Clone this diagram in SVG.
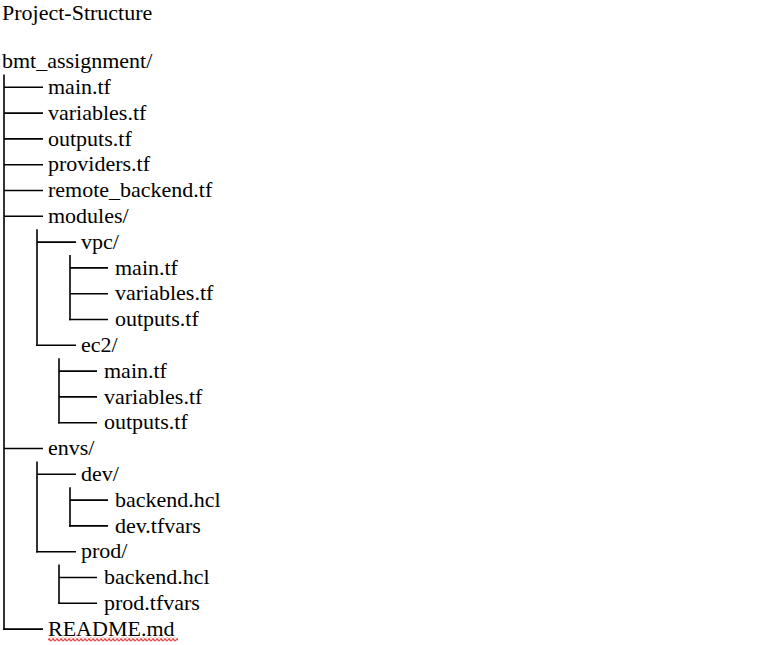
<svg xmlns="http://www.w3.org/2000/svg" width="773" height="645" viewBox="0 0 773 645" font-family="'Liberation Serif', 'Times New Roman', Times, 'Nimbus Roman', 'Noto Serif', 'DejaVu Serif', serif">
<style>
text{font-size:22px;fill:#000}
.c line{stroke:#000;stroke-width:1.6;fill:none}
</style>
<defs>
<pattern id="wave" x="48" y="637.5" width="4" height="4" patternUnits="userSpaceOnUse">
<path d="M0,2.5 Q1,0.3 2,2.5 T4,2.5" stroke="#e01010" stroke-width="1.1" fill="none"/>
</pattern>
</defs>
<rect width="773" height="645" fill="#fff"/>
<g id="connectors" class="c">
<line x1="4" y1="74.4" x2="4" y2="629.9"/>
<line x1="4" y1="87.3" x2="43" y2="87.3"/>
<line x1="4" y1="113.1" x2="43" y2="113.1"/>
<line x1="4" y1="138.9" x2="43" y2="138.9"/>
<line x1="4" y1="164.7" x2="43" y2="164.7"/>
<line x1="4" y1="190.5" x2="43" y2="190.5"/>
<line x1="4" y1="216.3" x2="43" y2="216.3"/>
<line x1="4" y1="448.5" x2="43" y2="448.5"/>
<line x1="3.2" y1="629.1" x2="43" y2="629.1"/>
<line x1="37" y1="229.2" x2="37" y2="346.1"/>
<line x1="37" y1="242.1" x2="76" y2="242.1"/>
<line x1="36.2" y1="345.3" x2="76" y2="345.3"/>
<line x1="70" y1="255" x2="70" y2="320.3"/>
<line x1="70" y1="267.9" x2="108" y2="267.9"/>
<line x1="70" y1="293.7" x2="108" y2="293.7"/>
<line x1="69.2" y1="319.5" x2="108" y2="319.5"/>
<line x1="59" y1="358.2" x2="59" y2="423.5"/>
<line x1="59" y1="371.1" x2="97" y2="371.1"/>
<line x1="59" y1="396.9" x2="97" y2="396.9"/>
<line x1="58.2" y1="422.7" x2="97" y2="422.7"/>
<line x1="37" y1="461.4" x2="37" y2="552.5"/>
<line x1="37" y1="474.3" x2="76" y2="474.3"/>
<line x1="36.2" y1="551.7" x2="76" y2="551.7"/>
<line x1="70" y1="487.2" x2="70" y2="526.7"/>
<line x1="70" y1="500.1" x2="108" y2="500.1"/>
<line x1="69.2" y1="525.9" x2="108" y2="525.9"/>
<line x1="59" y1="564.6" x2="59" y2="604.1"/>
<line x1="59" y1="577.5" x2="97" y2="577.5"/>
<line x1="58.2" y1="603.3" x2="97" y2="603.3"/>
</g>
<g id="title"><text x="2" y="19.5">Project-Structure</text></g>
<g id="root"><text x="2" y="67.7">bmt_assignment/</text></g>
<g id="main"><text x="48" y="94">main.tf</text></g>
<g id="variables"><text x="48" y="119.8">variables.tf</text></g>
<g id="outputs"><text x="48" y="145.6">outputs.tf</text></g>
<g id="providers"><text x="48" y="171.4">providers.tf</text></g>
<g id="remote_backend"><text x="48" y="197.2">remote_backend.tf</text></g>
<g id="modules"><text x="48" y="223">modules/</text></g>
<g id="vpc"><text x="81" y="248.8">vpc/</text></g>
<g id="vpc_main"><text x="115" y="274.6">main.tf</text></g>
<g id="vpc_variables"><text x="115" y="300.4">variables.tf</text></g>
<g id="vpc_outputs"><text x="115" y="326.2">outputs.tf</text></g>
<g id="ec2"><text x="81" y="352">ec2/</text></g>
<g id="ec2_main"><text x="104" y="377.8">main.tf</text></g>
<g id="ec2_variables"><text x="104" y="403.6">variables.tf</text></g>
<g id="ec2_outputs"><text x="104" y="429.4">outputs.tf</text></g>
<g id="envs"><text x="48" y="455.2">envs/</text></g>
<g id="dev"><text x="81" y="481">dev/</text></g>
<g id="dev_backend"><text x="115" y="506.8">backend.hcl</text></g>
<g id="dev_tfvars"><text x="115" y="532.6">dev.tfvars</text></g>
<g id="prod"><text x="81" y="558.4">prod/</text></g>
<g id="prod_backend"><text x="104" y="584.2">backend.hcl</text></g>
<g id="prod_tfvars"><text x="104" y="610">prod.tfvars</text></g>
<g id="readme"><text x="48" y="635.8">README.md</text>
<rect x="48" y="637.5" width="130" height="4" fill="url(#wave)"/></g>
</svg>
